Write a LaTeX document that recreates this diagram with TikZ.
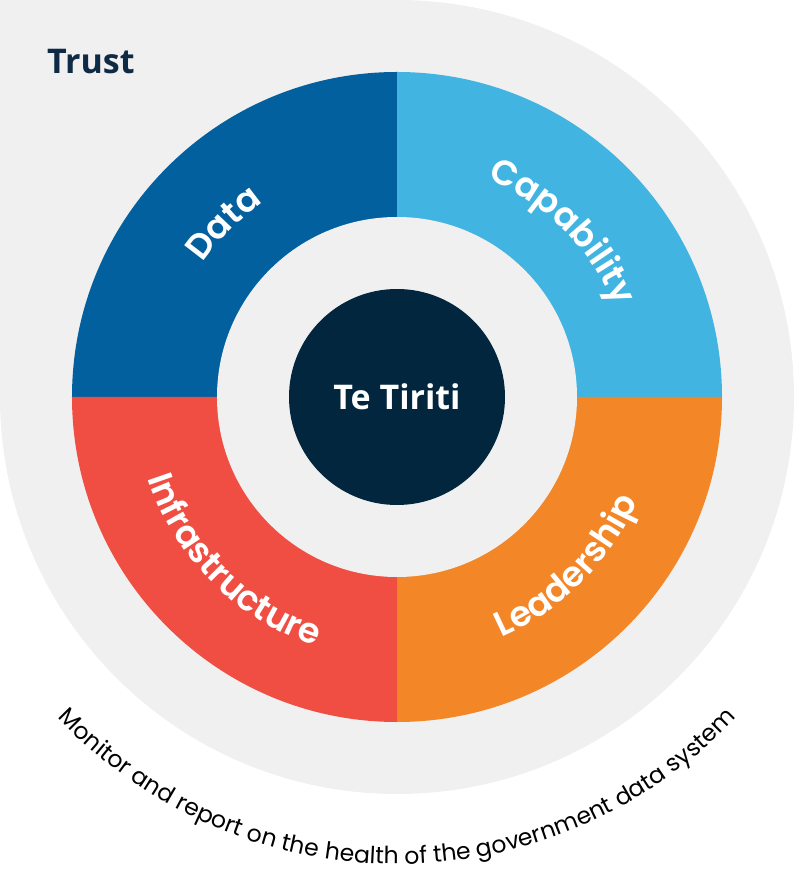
\documentclass[tikz,border=0pt]{standalone}
\usepackage{fontspec}
\setmainfont{Poppins}
\newfontfamily\trustfont{Open Sans}
\IfFontExistsTF{Poppins SemiBold}{\newfontfamily\ringfamily{Poppins SemiBold}}{\newfontfamily\ringfamily{Poppins}[FakeBold=1.2]}
\usetikzlibrary{decorations.text}
\definecolor{trustgrey}{HTML}{F0F0F0}
\definecolor{datablue}{HTML}{02609E}
\definecolor{capblue}{HTML}{42B4E2}
\definecolor{infrared}{HTML}{F04E43}
\definecolor{leadorange}{HTML}{F38627}
\definecolor{tiritinavy}{HTML}{02263E}
\definecolor{trustnavy}{HTML}{0E2A45}
\newcommand{\ringfont}{\ringfamily\fontsize{35}{35}\selectfont}
\newcommand{\monitorfont}{\fontsize{23.5}{23.5}\selectfont}
\tikzset{
  ringlabel/.style={decorate, decoration={text along path, text align=center, text color=white, text={|\ringfont|#1}}},
  bigword/.style={font=\trustfont\bfseries\fontsize{34}{34}\selectfont}
}

\begin{document}
\begin{tikzpicture}[x=1pt,y=1pt]
    \useasboundingbox (-397,-477) rectangle (398,397);
    \fill[trustgrey] (0,0) circle (397);
    \fill[trustgrey] (-397,0) rectangle (0,397);
    \fill[datablue] (0,0) -- (180:325) arc (180:90:325) -- cycle;
    \fill[capblue] (0,0) -- (90:325) arc (90:0:325) -- cycle;
    \fill[leadorange] (0,0) -- (360:325) arc (360:270:325) -- cycle;
    \fill[infrared] (0,0) -- (270:325) arc (270:180:325) -- cycle;
    \fill[trustgrey] (0,0) circle (180);
    \node[circle, fill=tiritinavy, minimum size=216, inner sep=0, text=white, bigword] (tiriti) at (0,0) {Te Tiriti};
    \node[anchor=base west, text=trustnavy, bigword, inner sep=0] (trust) at (-350,323) {Trust};
    \path[ringlabel=Data] (180:236) arc (180:90:236);
    \path[ringlabel=Capability] (90:236) arc (90:0:236);
    \path[ringlabel=Infrastructure] (180:262) arc (180:270:262);
    \path[ringlabel=Leadership] (270:262) arc (270:360:262);
    \path[decorate, decoration={text along path, text align=center, text={|\monitorfont|Monitor and report on the health of the government data system}}] (180:467) arc (180:360:467);
\end{tikzpicture}
\end{document}
